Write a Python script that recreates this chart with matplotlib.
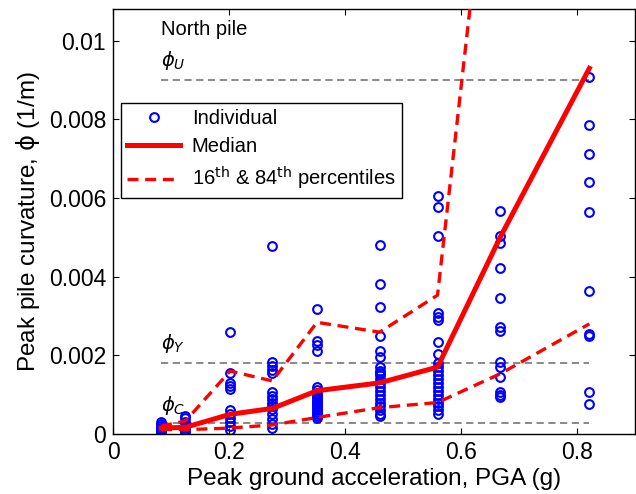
import matplotlib
matplotlib.use('Agg')
import matplotlib.pyplot as plt
import numpy as np

plt.rcParams['font.family'] = ['Liberation Sans', 'DejaVu Sans']
plt.rcParams['mathtext.fontset'] = 'dejavusans'

# PGA of each record set (g)
pga = [0.083, 0.125, 0.202, 0.275, 0.352, 0.460, 0.560, 0.668, 0.822]

# individual peak curvatures per PGA level (1/m)
individual = [
    [0.00005, 0.00008, 0.0001, 0.00012, 0.00015, 0.0002, 0.00025, 0.0003],
    [0.00005, 0.0001, 0.00015, 0.0002, 0.0003, 0.0004, 0.00045],
    [0.0026, 0.00155, 0.0013, 0.00123, 0.00114, 0.00062, 0.0005, 0.0004, 0.0003, 0.0002, 0.0001],
    [0.00477, 0.00184, 0.00174, 0.00163, 0.00154, 0.00106, 0.00097, 0.00089, 0.0008,
     0.00072, 0.00063, 0.0005, 0.00037, 0.00025, 0.00016],
    [0.00319, 0.00236, 0.00227, 0.00212, 0.0012, 0.00112, 0.00105, 0.001, 0.00095, 0.0009,
     0.00085, 0.0008, 0.00075, 0.0007, 0.00065, 0.0006, 0.00055, 0.0005, 0.00045, 0.0004],
    [0.0048, 0.00382, 0.00322, 0.0025, 0.00212, 0.00195, 0.0017, 0.0016, 0.00155, 0.0015,
     0.0014, 0.0013, 0.0012, 0.0011, 0.001, 0.0009, 0.0008, 0.0007, 0.0006, 0.0005, 0.00045],
    [0.00606, 0.00578, 0.00503, 0.00307, 0.00297, 0.00289, 0.00235, 0.00204, 0.0018, 0.0017,
     0.0016, 0.0015, 0.0014, 0.0013, 0.0012, 0.0011, 0.001, 0.0009, 0.0008, 0.0007, 0.0006, 0.0005],
    [0.00568, 0.00503, 0.00485, 0.00423, 0.00346, 0.00272, 0.00262, 0.00184, 0.0017,
     0.00144, 0.00107, 0.001, 0.00093],
    [0.00909, 0.00785, 0.00713, 0.00641, 0.00564, 0.00363, 0.00255, 0.0025, 0.00107, 0.00076],
]

median = [0.00015, 0.00017, 0.0005, 0.00065, 0.0011, 0.0013, 0.0017, 0.005, 0.0093]
p16 = [0.00012, 0.00011, 0.00015, 0.00023, 0.00042, 0.00067, 0.0008, 0.00153, 0.0028]
p84 = [0.0002, 0.00033, 0.0016, 0.00135, 0.00284, 0.00259, 0.00353, 0.0176, 0.03]

# curvature limit states
phi_labels = [r'$\phi_U$', r'$\phi_Y$', r'$\phi_C$']
phi_values = [0.009, 0.0018, 0.00029]
phi_text_y = [0.0095, 0.0023, 0.00072]

xticks = [0, 0.2, 0.4, 0.6, 0.8]
xticklabels = ['0', '0.2', '0.4', '0.6', '0.8']
yticks = [0, 0.002, 0.004, 0.006, 0.008, 0.01]
yticklabels = ['0', '0.002', '0.004', '0.006', '0.008', '0.01']

fig = plt.figure(figsize=(6.36, 4.94), dpi=100)
ax = fig.add_axes([0.1777, 0.1215, 0.82, 0.8595])

for v in phi_values:
    ax.plot([pga[0], pga[-1]], [v, v], color='#808080', lw=1.3, ls=(0, (4, 2.5)), zorder=1)

first = True
for x, vals in zip(pga, individual):
    ax.plot([x] * len(vals), vals, 'o', mfc='none', mec='blue', mew=1.5, ms=6.3,
            label='Individual' if first else None, zorder=2)
    first = False

ax.plot(pga, median, color='red', lw=3.6, label='Median', zorder=3)
ax.plot(pga, p16, color='red', lw=2.4, ls=(0, (3.3, 2.0)),
        label=r'16$^{\mathrm{th}}$ & 84$^{\mathrm{th}}$ percentiles', zorder=3)
ax.plot(pga, p84, color='red', lw=2.4, ls=(0, (3.3, 2.0)), zorder=3)

ax.text(pga[0], 0.0103, 'North pile', fontsize=14.5, va='center', ha='left')
for lab, ty in zip(phi_labels, phi_text_y):
    ax.text(pga[0], ty, lab, fontsize=14, va='center', ha='left')

ax.set_xlim(0, 0.9)
ax.set_ylim(0, 0.0108)
ax.set_xticks(xticks)
ax.set_xticklabels(xticklabels)
ax.set_yticks(yticks)
ax.set_yticklabels(yticklabels)
ax.tick_params(direction='in', length=4, width=0.8, labelsize=16.5, top=True, right=True, pad=5)
ax.set_xlabel('Peak ground acceleration, PGA (g)', fontsize=17.5, labelpad=3)
ax.set_ylabel(r'Peak pile curvature, $\mathrm{\phi}$ (1/m)', fontsize=17.5, labelpad=5)
for s in ax.spines.values():
    s.set_linewidth(1.0)

leg = ax.legend(loc='upper left', bbox_to_anchor=(0.016, 0.78), fontsize=14.5,
                frameon=True, fancybox=False, edgecolor='black', framealpha=1,
                handlelength=2.6, borderpad=0.3, labelspacing=0.45, handletextpad=0.6,
                borderaxespad=0)
leg.get_frame().set_linewidth(1.0)

fig.savefig('out.png', dpi=100)
